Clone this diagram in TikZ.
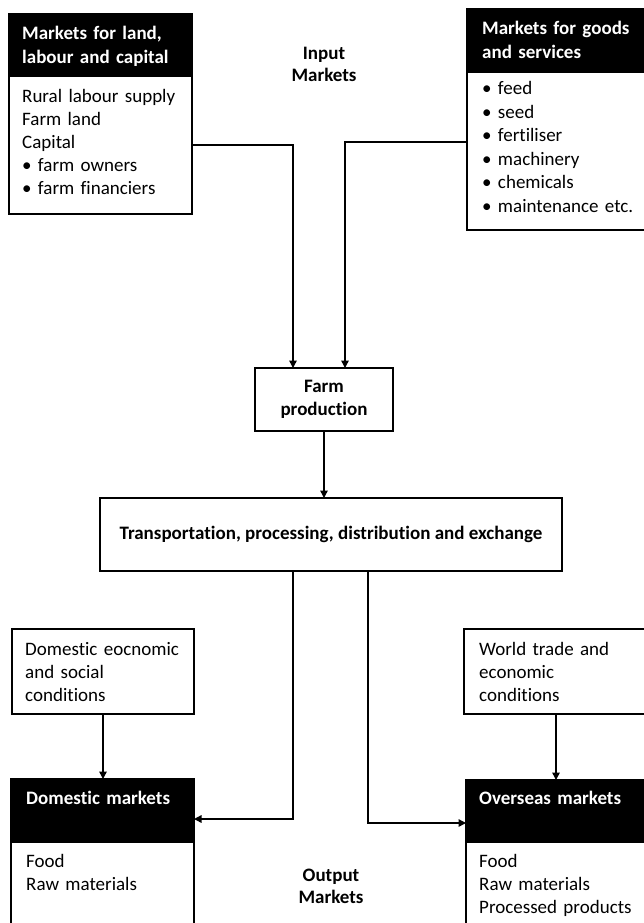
\documentclass[tikz,border=0pt]{standalone}
\usepackage{fontspec}
\setmainfont{Carlito}[Ligatures=NoCommon]
\usetikzlibrary{calc,arrows.meta}
\begin{document}
\begin{tikzpicture}[x=1pt,y=-1pt,
  boxline/.style={draw=black, line width=1.4pt, inner sep=0pt, outer sep=0pt, anchor=north west},
  headbox/.style={boxline, fill=black},
  bodybox/.style={boxline, fill=white},
  txt/.style={font=\fontsize{19}{23}\selectfont, anchor=base west, inner sep=0pt, align=left, text width=200pt},
  hdtxt/.style={font=\fontsize{19}{23.5}\selectfont\bfseries, text=white, anchor=base west, inner sep=0pt, align=left, text width=200pt},
  lbl/.style={font=\fontsize{19}{22}\selectfont\bfseries, anchor=base, inner sep=0pt, align=center, text width=120pt},
  midbox/.style={boxline, font=\fontsize{19}{23}\selectfont\bfseries, align=center},
  conn/.style={line width=1.4pt, -{Triangle[length=7.5pt,width=7.5pt]}}
]
\useasboundingbox (0,0) rectangle (644,923);
\clip (0,0) rectangle (644,923);

% top left
\node[headbox, minimum width=183pt, minimum height=62pt] (landhead) at (9,14) {};
\node[bodybox, minimum width=183pt, minimum height=138pt] (landbody) at (9,76) {};
\node[hdtxt] (landheadtxt) at (22,40) {Markets for land,\\labour and capital};
\node[txt] (landbodytxt) at (22,103) {Rural labour supply\\Farm land\\Capital\\\textbullet{} farm owners\\\textbullet{} farm financiers};

% top right
\node[headbox, minimum width=193pt, minimum height=63pt] (goodshead) at (467,9) {};
\node[bodybox, minimum width=193pt, minimum height=158pt] (goodsbody) at (467,72) {};
\node[hdtxt] (goodsheadtxt) at (482,35) {Markets for goods\\and services};
\node[txt, font=\fontsize{19}{23.5}\selectfont] (goodsbodytxt) at (482,95) {\textbullet{} feed\\\textbullet{} seed\\\textbullet{} fertiliser\\\textbullet{} machinery\\\textbullet{} chemicals\\\textbullet{} maintenance etc.};

\node[lbl] (inputtxt) at (324,60) {Input\\Markets};

% middle
\node[midbox, minimum width=138pt, minimum height=63pt] (farm) at (255,368) {Farm\\production};
\node[midbox, minimum width=462pt, minimum height=73pt] (trans) at (100,498) {Transportation, processing, distribution and exchange};

% bottom left
\node[bodybox, minimum width=182pt, minimum height=85pt] (domcond) at (12,629) {};
\node[txt] (domcondtxt) at (25,655) {Domestic eocnomic\\and social\\conditions};
\node[headbox, minimum width=183pt, minimum height=63pt] (domhead) at (11,779) {};
\node[bodybox, minimum width=183pt, minimum height=110pt] (dombody) at (11,842) {};
\node[hdtxt] (domheadtxt) at (26,804) {Domestic markets};
\node[txt] (dombodytxt) at (26,867) {Food\\Raw materials};

% bottom right
\node[bodybox, minimum width=184pt, minimum height=85pt] (world) at (464,629) {};
\node[txt] (worldtxt) at (479,655) {World trade and\\economic\\conditions};
\node[headbox, minimum width=182pt, minimum height=62pt] (oshead) at (466,780) {};
\node[bodybox, minimum width=182pt, minimum height=110pt] (osbody) at (466,842) {};
\node[hdtxt] (osheadtxt) at (479,804) {Overseas markets};
\node[txt] (osbodytxt) at (479,867) {Food\\Raw materials\\Processed products};

\node[lbl] (outputtxt) at (331,881) {Output\\Markets};

% connectors
\draw[conn] (landbody.east) -| ($(farm.north)+(-31,0)$);
\draw[conn] ($(goodsbody.west)+(0,-9)$) -| ($(farm.north)+(21,0)$);
\draw[conn] (farm.south) -- (farm.south |- trans.north);
\draw[conn] ($(trans.south)+(-38,0)$) |- ($(domhead.east)+(0,8.5)$);
\draw[conn] ($(trans.south)+(37,0)$) |- ($(oshead.west)+(0,12)$);
\draw[conn] (domcond.south) -- (domcond.south |- domhead.north);
\draw[conn] (world.south) -- (world.south |- oshead.north);
\end{tikzpicture}
\end{document}
